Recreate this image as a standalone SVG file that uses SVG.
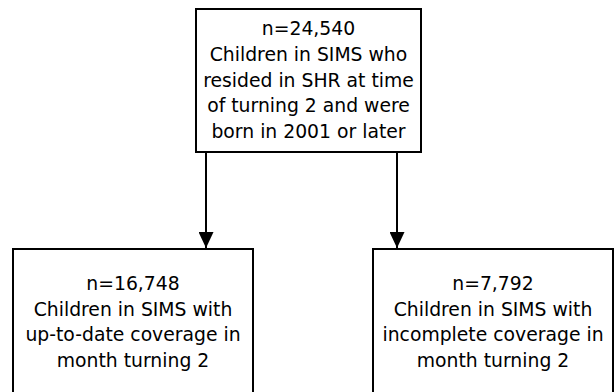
<svg xmlns="http://www.w3.org/2000/svg" width="615" height="392" viewBox="0 0 615 392">
<style>
.box{fill:#fff;stroke:#000;stroke-width:2}
.t{font-family:"DejaVu Sans",sans-serif;font-size:18.8px;fill:#000;text-anchor:middle}
.c{stroke:#000;stroke-width:2;fill:none}
</style>
<defs>
<marker id="ah" viewBox="0 0 16 15" refX="16" refY="7.5" markerWidth="16" markerHeight="15" markerUnits="userSpaceOnUse" orient="auto">
<path d="M0,0 L16,7.5 L0,15 Z" fill="#000"/>
</marker>
</defs>
<rect width="615" height="392" fill="#fff"/>
<g id="connectors">
<line class="c" x1="206" y1="152" x2="206" y2="248" marker-end="url(#ah)"/>
<line class="c" x1="397" y1="152" x2="397" y2="248" marker-end="url(#ah)"/>
</g>
<g id="top">
<rect class="box" x="196" y="9" width="225" height="143"/>
<text class="t" x="308.5" y="35">n=24,540</text>
<text class="t" x="308.5" y="61">Children in SIMS who</text>
<text class="t" x="308.5" y="86.5">resided in SHR at time</text>
<text class="t" x="308.5" y="112">of turning 2 and were</text>
<text class="t" x="308.5" y="138">born in 2001 or later</text>
</g>
<g id="left">
<rect class="box" x="13" y="249" width="240" height="160"/>
<text class="t" x="133" y="290">n=16,748</text>
<text class="t" x="133" y="315.5">Children in SIMS with</text>
<text class="t" x="133" y="341">up-to-date coverage in</text>
<text class="t" x="133" y="366.5">month turning 2</text>
</g>
<g id="right">
<rect class="box" x="373" y="249" width="240" height="160"/>
<text class="t" x="493" y="290">n=7,792</text>
<text class="t" x="493" y="315.5">Children in SIMS with</text>
<text class="t" x="493" y="341">incomplete coverage in</text>
<text class="t" x="493" y="366.5">month turning 2</text>
</g>
</svg>
